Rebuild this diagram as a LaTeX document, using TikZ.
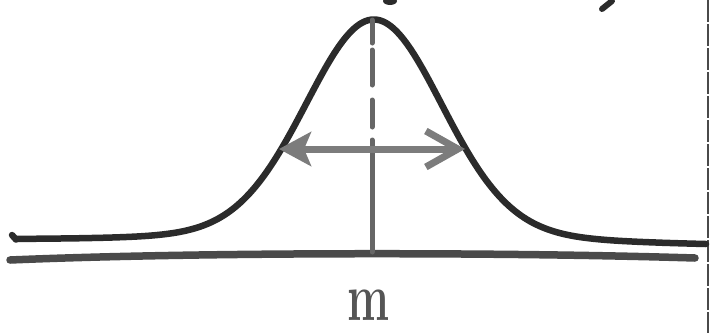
\documentclass[tikz,border=0pt]{standalone}
\usetikzlibrary{arrows.meta}
\definecolor{curvecol}{HTML}{2B2B2B}
\definecolor{axiscol}{HTML}{4A4A4A}
\definecolor{arrowcol}{HTML}{7C7C7C}
\definecolor{dashcol}{HTML}{666666}
\definecolor{labelcol}{HTML}{555555}
\tikzset{
  bell/.style={draw=curvecol, line width=6.5pt, line cap=round, line join=round},
  axisline/.style={draw=axiscol, line width=7.5pt, line cap=round},
  centerline/.style={draw=dashcol, line width=5pt, line cap=round},
  widtharrow/.style={draw=arrowcol, line width=7pt,
     {Stealth[length=32pt,width=34pt,inset=7pt]}-{Straight Barb[length=32pt,width=36pt]}},
  edgeline/.style={draw=axiscol, line width=2pt, dash pattern=on 22pt off 2pt},
  marklabel/.style={text=labelcol, font=\fontsize{68}{68}\selectfont\bfseries, xscale=0.66, inner sep=0pt}
}
\begin{document}
\begin{tikzpicture}[x=1pt,y=-1pt]
\useasboundingbox (0,0) rectangle (712,333);
% page edge on the right
\draw[edgeline] (708,0) -- (708,333);
% bits of cut-off strokes at top
\fill[curvecol] (390,1) ellipse (7pt and 4pt);
\draw[curvecol, line width=6pt, line cap=round] (612,1) -- (602,9);
% axis
\draw[axisline] (10,260) .. controls (200,252) and (500,252) .. (695,258);
% bell curve
\draw[bell] (12,235) -- (16,239.5)
  -- plot[domain=16:706, samples=240]
  (\x, {244.5 + 0.008*(\x-374)
        - 225*(0.85*exp(-((\x-374)/100)^2/0.9248)
        + 0.15/(1+((\x-374)/100)^2/1.136))});
% centre line
\draw[centerline] (372,20) -- (372,43);
\draw[centerline] (372,50) -- (372,85);
\draw[centerline] (372,100) -- (372,127);
\draw[centerline] (372,140) -- (372,252);
% width arrow
\coordinate (L) at (279,149);
\coordinate (R) at (465,149);
\draw[widtharrow] (L) -- (R);
% label
\node[marklabel] (m) at (369,305) {m};
\end{tikzpicture}
\end{document}
